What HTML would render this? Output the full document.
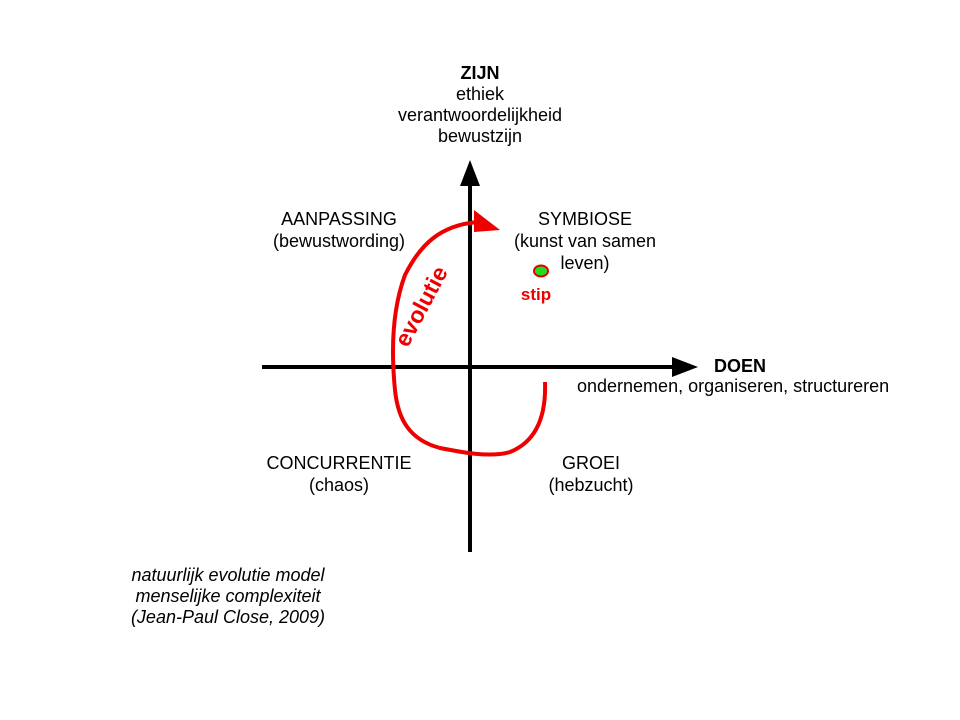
<!DOCTYPE html>
<html><head><meta charset="utf-8"><style>
body{margin:0;width:960px;height:720px;background:#fff;overflow:hidden}
svg{position:absolute;left:0;top:0}
text{font-family:"Liberation Sans",sans-serif;font-size:18px;fill:#000}
</style></head><body>
<svg width="960" height="720" viewBox="0 0 960 720">
<line x1="470" y1="552" x2="470" y2="185" stroke="#000" stroke-width="4"/>
<polygon points="470,160 460,186 480,186" fill="#000"/>
<line x1="262" y1="367" x2="675" y2="367" stroke="#000" stroke-width="4"/>
<polygon points="698,367 672,357 672,377" fill="#000"/>
<path d="M545,382 C546,410 540,440 510,452 C490,458 460,452 440,448 C410,440 398,420 395,390 C391,350 392,310 405,275 C420,245 440,225 478,222" fill="none" stroke="#ee0000" stroke-width="4"/>
<polygon points="474,210 500,230 474,232" fill="#ee0000"/>
<ellipse cx="541" cy="271" rx="7" ry="5.5" fill="#22dd22" stroke="#e00000" stroke-width="2"/>
<text x="536" y="300" text-anchor="middle" style="font-weight:bold;fill:#ee0000;font-size:17px">stip</text>
<text transform="translate(428,310) rotate(-62)" text-anchor="middle" style="font-weight:bold;font-size:23px;fill:#ee0000">evolutie</text>
<g text-anchor="middle">
<text x="480" y="79" style="font-weight:bold">ZIJN</text>
<text x="480" y="100">ethiek</text>
<text x="480" y="121">verantwoordelijkheid</text>
<text x="480" y="142">bewustzijn</text>
<text x="339" y="225">AANPASSING</text>
<text x="339" y="247">(bewustwording)</text>
<text x="585" y="225">SYMBIOSE</text>
<text x="585" y="247">(kunst van samen</text>
<text x="585" y="269">leven)</text>
<text x="339" y="469">CONCURRENTIE</text>
<text x="339" y="491">(chaos)</text>
<text x="591" y="469">GROEI</text>
<text x="591" y="491">(hebzucht)</text>
<text x="228" y="581" style="font-style:italic">natuurlijk evolutie model</text>
<text x="228" y="602" style="font-style:italic">menselijke complexiteit</text>
<text x="228" y="623" style="font-style:italic">(Jean-Paul Close, 2009)</text>
</g>
<text x="714" y="372" style="font-weight:bold">DOEN</text>
<text x="577" y="392">ondernemen, organiseren, structureren</text>
</svg>
</body></html>
